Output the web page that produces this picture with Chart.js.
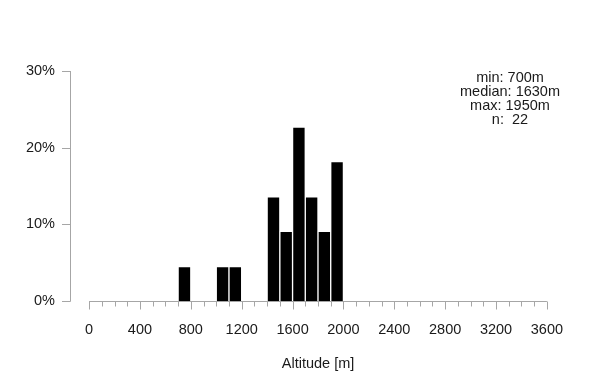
<!DOCTYPE html>
<html>
<head>
<meta charset="utf-8">
<script src="https://cdn.jsdelivr.net/npm/chart.js@4"></script>
<style>
  body { margin: 0; background: #fff; }
  #wrap { width: 600px; height: 390px; }
</style>
</head>
<body>
<div id="wrap"><canvas id="histChart"></canvas></div>
<script>
// Histogram bins (centre of each 100 m bin) and share of sites in percent
const binCenters = [750, 1050, 1150, 1450, 1550, 1650, 1750, 1850, 1950];
const binPercent = [4.5, 4.5, 4.5, 13.6, 9.1, 22.7, 13.6, 9.1, 18.2];
const yTicks = [0, 10, 20, 30];
const xMajorTicks = [0, 400, 800, 1200, 1600, 2000, 2400, 2800, 3200, 3600];
const statsLines = ["min: 700m", "median: 1630m", "max: 1950m", "n:  22"];

const axisColor = "#a6a6a6";
const textColor = "#1a1a1a";
const fontFamily = "'Liberation Sans', Arial, sans-serif";
const fontSize = 14.5;

// Draws R-style axis lines and tick marks from the chart scales
const axesPlugin = {
  id: "rAxes",
  afterDraw(chart) {
    const ctx = chart.ctx;
    const x = chart.scales.x;
    const y = chart.scales.y;
    const left = chart.chartArea.left;
    const y0 = Math.round(y.getPixelForValue(0)) + 0.5;
    ctx.save();
    ctx.strokeStyle = axisColor;
    ctx.lineWidth = 1;
    ctx.beginPath();
    // y axis
    ctx.moveTo(left + 0.5, y.getPixelForValue(30));
    ctx.lineTo(left + 0.5, y0);
    yTicks.forEach(v => {
      const py = Math.round(y.getPixelForValue(v)) + 0.5;
      ctx.moveTo(left - 8, py);
      ctx.lineTo(left + 0.5, py);
    });
    // x axis
    ctx.moveTo(x.getPixelForValue(0), y0);
    ctx.lineTo(x.getPixelForValue(3600), y0);
    for (let v = 0; v <= 3600; v += 100) {
      const px = Math.round(x.getPixelForValue(v)) + 0.5;
      const len = v % 400 === 0 ? 8 : 5;
      ctx.moveTo(px, y0);
      ctx.lineTo(px, y0 + len);
    }
    ctx.stroke();

    // summary text block
    ctx.fillStyle = textColor;
    ctx.font = fontSize + "px " + fontFamily;
    ctx.textAlign = "center";
    ctx.textBaseline = "middle";
    statsLines.forEach((line, i) => {
      ctx.fillText(line, 510, 77.5 + i * 14);
    });
    ctx.restore();
  }
};

const ctx = document.getElementById("histChart").getContext("2d");
new Chart(ctx, {
  type: "bar",
  data: {
    datasets: [
      {
        data: binCenters.map((c, i) => ({ x: c, y: binPercent[i] })),
        backgroundColor: "#000000",
        borderColor: "#ffffff",
        borderWidth: 1,
        borderSkipped: "start",
        barPercentage: 1,
        categoryPercentage: 1,
      },
    ],
  },
  options: {
    responsive: true,
    maintainAspectRatio: false,
    animation: false,
    layout: {
      padding: { left: 0, right: 34, top: 71, bottom: 0 },
    },
    plugins: {
      legend: { display: false },
      tooltip: { enabled: false },
    },
    scales: {
      x: {
        type: "linear",
        offset: false,
        min: -150,
        max: 3750,
        grid: { display: false },
        border: { display: false },
        afterBuildTicks: function (scale) {
          scale.ticks = xMajorTicks.map(v => ({ value: v }));
        },
        afterFit: function (scale) {
          scale.height = 89;
        },
        ticks: {
          padding: 12,
          maxRotation: 0,
          autoSkip: false,
          color: textColor,
          font: { size: fontSize, family: fontFamily },
          callback: v => String(v),
        },
        title: {
          display: true,
          text: "Altitude [m]",
          color: textColor,
          font: { size: fontSize, family: fontFamily },
          padding: { top: 0, bottom: 17 },
        },
      },
      y: {
        min: 0,
        max: 30,
        grid: { display: false },
        border: { display: false },
        afterBuildTicks: function (scale) {
          scale.ticks = yTicks.map(v => ({ value: v }));
        },
        afterFit: function (scale) {
          scale.width = 70;
        },
        ticks: {
          padding: 7,
          color: textColor,
          font: { size: fontSize, family: fontFamily },
          callback: v => v + "%",
        },
      },
    },
  },
  plugins: [axesPlugin],
});
</script>
</body>
</html>
